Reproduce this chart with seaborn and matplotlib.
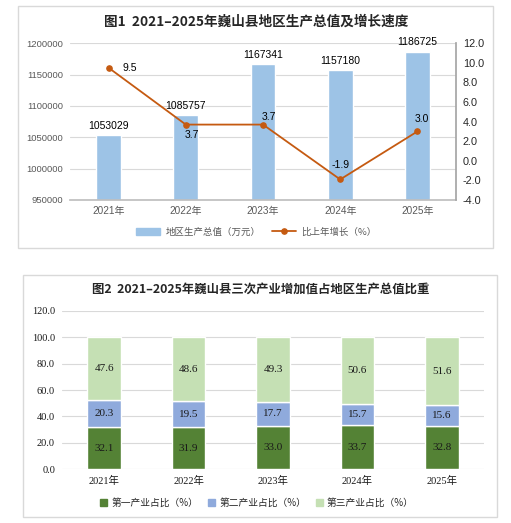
import numpy as np
import matplotlib
matplotlib.use("Agg")
import matplotlib.pyplot as plt
import matplotlib.patches as mpatches
from matplotlib.lines import Line2D
from matplotlib.ticker import FormatStrFormatter, MultipleLocator, FixedLocator, StrMethodFormatter
import seaborn as sns

# Data ====================================================================
years = ["2021年", "2022年", "2023年", "2024年", "2025年"]
gdp = [1053029, 1085757, 1167341, 1157180, 1186725]          # 万元
growth = [9.5, 3.7, 3.7, -1.9, 3.0]                            # %
primary = [32.1, 31.9, 33.0, 33.7, 32.8]
secondary = [20.3, 19.5, 17.7, 15.7, 15.6]
tertiary = [47.6, 48.6, 49.3, 50.6, 51.6]

# Style ===================================================================
sns.set_theme(style="white")
plt.rcParams["font.family"] = ["Liberation Sans", "Noto Sans CJK SC"]
serif = ["Liberation Serif", "Noto Sans CJK SC"]
cjk = ["Noto Sans CJK SC", "DejaVu Sans"]

bar_blue = "#9dc3e6"
line_orange = "#c55a11"
c1, c2, c3 = "#548235", "#8faadc", "#c5e0b4"
grid_c = "#d9d9d9"

W, H = 511, 523
fig = plt.figure(figsize=(W / 100, H / 100), dpi=100)


def px_box(x0, y0, x1, y1):
    return [x0 / W, 1 - y1 / H, (x1 - x0) / W, (y1 - y0) / H]


# chart frames
for (x0, y0, x1, y1) in [(18, 6, 493, 248), (23, 275, 497, 517)]:
    fig.add_artist(mpatches.Rectangle((x0 / W, 1 - y1 / H), (x1 - x0) / W, (y1 - y0) / H,
                                      transform=fig.transFigure, fill=False,
                                      edgecolor=grid_c, linewidth=1.0))

# Chart 1 =================================================================
ax1 = fig.add_axes(px_box(70, 43.3, 456, 200))
sns.barplot(x=years, y=gdp, ax=ax1, color=bar_blue, width=0.32, saturation=1)
ax1.set_ylim(950000, 1200000)
ax1.yaxis.set_major_locator(MultipleLocator(50000))
ax1.yaxis.set_major_formatter(StrMethodFormatter("{x:.0f}"))
ax1.yaxis.grid(True, color=grid_c, linewidth=0.8)
ax1.set_axisbelow(True)
ax1.set_xlabel("")
ax1.set_ylabel("")
ax1.tick_params(axis="y", length=0, pad=5, labelsize=6.8, labelcolor="#595959")
ax1.tick_params(axis="x", which="major", length=0, pad=4, labelsize=7.2, labelcolor="#595959")
ax1.xaxis.set_minor_locator(FixedLocator(np.arange(len(years) + 1) - 0.5))
ax1.tick_params(axis="x", which="minor", length=4, color="#bfbfbf", width=0.8)
for s in ["left", "top", "right"]:
    ax1.spines[s].set_visible(False)
ax1.spines["bottom"].set_color("#bfbfbf")
ax1.bar_label(ax1.containers[0], labels=[str(v) for v in gdp], padding=3,
              fontsize=7.5, color="#000000")

ax2 = ax1.twinx()
sns.pointplot(x=years, y=growth, ax=ax2, color=line_orange, markersize=3.8,
              linewidth=1.3)
ax2.set_ylim(-4, 12)
ax2.yaxis.set_major_locator(MultipleLocator(2))
ax2.yaxis.set_major_formatter(FormatStrFormatter("%.1f"))
ax2.set_xlabel("")
ax2.set_ylabel("")
ax2.tick_params(axis="y", length=0, pad=5, labelsize=7.8, labelcolor="#262626")
for s in ["left", "top", "bottom"]:
    ax2.spines[s].set_visible(False)
ax2.spines["right"].set_color("#a6a6a6")

# offsets of the growth labels (points)
offsets = [(15, 0), (4, -7.5), (4, 5.5), (0, 10.5), (3.5, 9)]
for i, (v, off) in enumerate(zip(growth, offsets)):
    ax2.annotate(f"{v:.1f}", (i, v), xytext=off, textcoords="offset points",
                 ha="center", va="center", fontsize=7.5, color="#000000")

fig.text(256.5 / W, 1 - 22 / H, "图1  2021–2025年巍山县地区生产总值及增长速度",
         ha="center", va="center", fontsize=9.8, fontweight="bold",
         family=cjk, color="#262626")

h1 = [mpatches.Patch(color=bar_blue),
      Line2D([], [], color=line_orange, marker="o", markersize=3.8, linewidth=1.3)]
fig.legend(h1, ["地区生产总值（万元）", "比上年增长（%）"], loc="center",
           bbox_to_anchor=(256 / W, 1 - 232 / H), ncol=2, frameon=False,
           prop={"family": cjk, "size": 6.8}, labelcolor="#595959",
           handlelength=2.6, handleheight=0.7, columnspacing=1.2, handletextpad=0.5)

# Chart 2 =================================================================
ax3 = fig.add_axes(px_box(62, 310.7, 484, 469.3))
bottom2 = np.array(primary)
bottom3 = np.array(primary) + np.array(secondary)
sns.barplot(x=years, y=primary, ax=ax3, color=c1, width=0.40, saturation=1)
sns.barplot(x=years, y=secondary, ax=ax3, color=c2, width=0.40, saturation=1,
            bottom=bottom2)
sns.barplot(x=years, y=tertiary, ax=ax3, color=c3, width=0.40, saturation=1,
            bottom=bottom3)
for cont, vals in zip(ax3.containers, [primary, secondary, tertiary]):
    ax3.bar_label(cont, labels=[f"{v:.1f}" for v in vals], label_type="center",
                  fontsize=8, color="#1a1a1a", family=serif)
ax3.set_ylim(0, 120)
ax3.yaxis.set_major_locator(MultipleLocator(20))
ax3.yaxis.set_major_formatter(FormatStrFormatter("%.1f"))
ax3.yaxis.grid(True, color=grid_c, linewidth=0.8)
ax3.set_axisbelow(True)
ax3.set_xlabel("")
ax3.set_ylabel("")
ax3.tick_params(axis="both", length=0, labelsize=7.5, labelcolor="#1a1a1a")
ax3.tick_params(axis="y", pad=5)
ax3.tick_params(axis="x", pad=5)
for lab in ax3.get_xticklabels() + ax3.get_yticklabels():
    lab.set_family(serif)
for s in ["left", "top", "right", "bottom"]:
    ax3.spines[s].set_visible(False)

fig.text(260.5 / W, 1 - 289 / H, "图2  2021–2025年巍山县三次产业增加值占地区生产总值比重",
         ha="center", va="center", fontsize=8.9, fontweight="bold",
         family=cjk, color="#262626")

h2 = [mpatches.Patch(color=c) for c in (c1, c2, c3)]
fig.legend(h2, ["第一产业占比（%）", "第二产业占比（%）", "第三产业占比（%）"],
           loc="center", bbox_to_anchor=(257 / W, 1 - 503 / H), ncol=3, frameon=False,
           prop={"family": cjk, "size": 7}, labelcolor="#262626",
           handlelength=0.75, handleheight=0.75, columnspacing=1.0, handletextpad=0.4)

fig.savefig("out.png", dpi=100, facecolor="white")
